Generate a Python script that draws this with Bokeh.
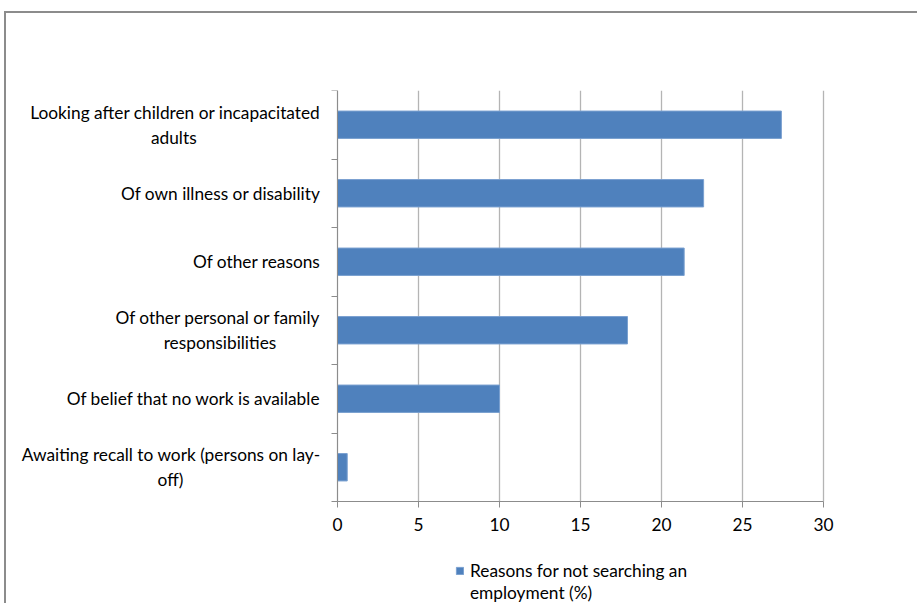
from bokeh.plotting import figure
from bokeh.models import Range1d, FixedTicker, Legend, LegendItem, LinearAxis
from bokeh.embed import file_html
from bokeh.resources import INLINE

categories = [
    "Awaiting recall to work (persons on lay-\noff)",
    "Of belief that no work is available",
    "Of other personal or family\nresponsibilities",
    "Of other reasons",
    "Of own illness or disability",
    "Looking after children or incapacitated\nadults",
]
values = [0.6, 10.0, 17.9, 21.4, 22.6, 27.4]
x_ticks = [0, 5, 10, 15, 20, 25, 30]
series_name = "Reasons for not searching an\nemployment (%)"

FONT = "Lato"
FS = "17.3px"
NBSP = "\u00a0"
# trailing non-breaking spaces so wrapped second lines appear centred
second_line_pad = {0: 31, 2: 10, 5: 28}


def centred(i, text):
    if "\n" not in text:
        return text
    a, b = text.split("\n", 1)
    return a + "\n" + b + NBSP * second_line_pad.get(i, 0)


n = len(categories)
centers = [i + 0.5 for i in range(n)]

# pixel layout of the drawing area
PLOT_W, LEFT_W, RIGHT_W = 486, 331, 94
PLOT_H, BELOW_H = 411, 102
x0, x1 = x_ticks[0], x_ticks[-1]
span = x1 - x0
x_start = x0 - span * LEFT_W / PLOT_W
x_end = x1 + span * RIGHT_W / PLOT_W
y_start = -n * BELOW_H / PLOT_H

p = figure(
    frame_width=PLOT_W + LEFT_W + RIGHT_W, frame_height=PLOT_H + BELOW_H,
    x_range=Range1d(x_start, x_end), y_range=Range1d(y_start, n),
    output_backend="svg", toolbar_location=None,
    min_border_left=0, min_border_top=77, min_border_right=0, min_border_bottom=0,
    x_axis_type=None, y_axis_type=None,
)
p.margin = (11, 0, 0, 4)
p.styles = {"border-left": "2px solid #8c8c8c", "border-top": "2px solid #8c8c8c"}
p.outline_line_color = None
p.background_fill_color = "white"
p.border_fill_color = "white"
p.xgrid.visible = False
p.ygrid.visible = False

# vertical gridlines limited to the bar area
p.segment(x0=x_ticks, y0=[0] * len(x_ticks), x1=x_ticks, y1=[n] * len(x_ticks),
          line_color="#b4b4b4", line_width=1.3)

# x axis placed at y = 0
xa = LinearAxis(ticker=FixedTicker(ticks=x_ticks, minor_ticks=[]),
                fixed_location=0, bounds=(x0, x1))
xa.axis_line_color = "#8c8c8c"
xa.major_tick_line_color = "#8c8c8c"
xa.major_tick_in = 0
xa.major_tick_out = 6
xa.minor_tick_line_color = None
xa.major_label_text_font = FONT
xa.major_label_text_font_size = FS
xa.major_label_text_color = "#000000"
xa.major_label_standoff = 10
p.add_layout(xa, "below")

# y axis at x = 0 (labels at centers, ticks at category boundaries)
ya = LinearAxis(ticker=FixedTicker(ticks=centers, minor_ticks=list(range(n + 1))),
                fixed_location=x0, bounds=(0, n))
ya.major_label_overrides = {c: centred(i, lab) for i, (c, lab) in enumerate(zip(centers, categories))}
ya.axis_line_color = "#8c8c8c"
ya.major_tick_line_color = None
ya.major_tick_in = 0
ya.major_tick_out = 0
ya.minor_tick_line_color = "#8c8c8c"
ya.minor_tick_in = 0
ya.minor_tick_out = 6
ya.major_label_text_font = FONT
ya.major_label_text_font_size = FS
ya.major_label_text_color = "#000000"
ya.major_label_standoff = 11
p.add_layout(ya, "left")

r = p.hbar(y=centers, right=values, left=0, height=0.4,
           fill_color="#4F81BD", line_color="#7aa0d0", line_width=1)
# invisible renderer used for the wrapped second line of the legend label
r_blank = p.hbar(y=[], right=[], left=0, height=0.4, fill_alpha=0, line_alpha=0)

legend_lines = series_name.split("\n")
items = [LegendItem(label=legend_lines[0], renderers=[r])]
items += [LegendItem(label=t, renderers=[r_blank]) for t in legend_lines[1:]]

legend = Legend(items=items,
                location=(LEFT_W + 118, 0), orientation="vertical",
                glyph_width=9, glyph_height=9, label_standoff=6,
                label_height=22, spacing=0,
                padding=0, margin=0, border_line_color=None,
                background_fill_alpha=0,
                label_text_font=FONT, label_text_font_size=FS,
                label_text_color="#000000")
p.add_layout(legend, "center")

open("out.html", "w").write(file_html(p, INLINE))
